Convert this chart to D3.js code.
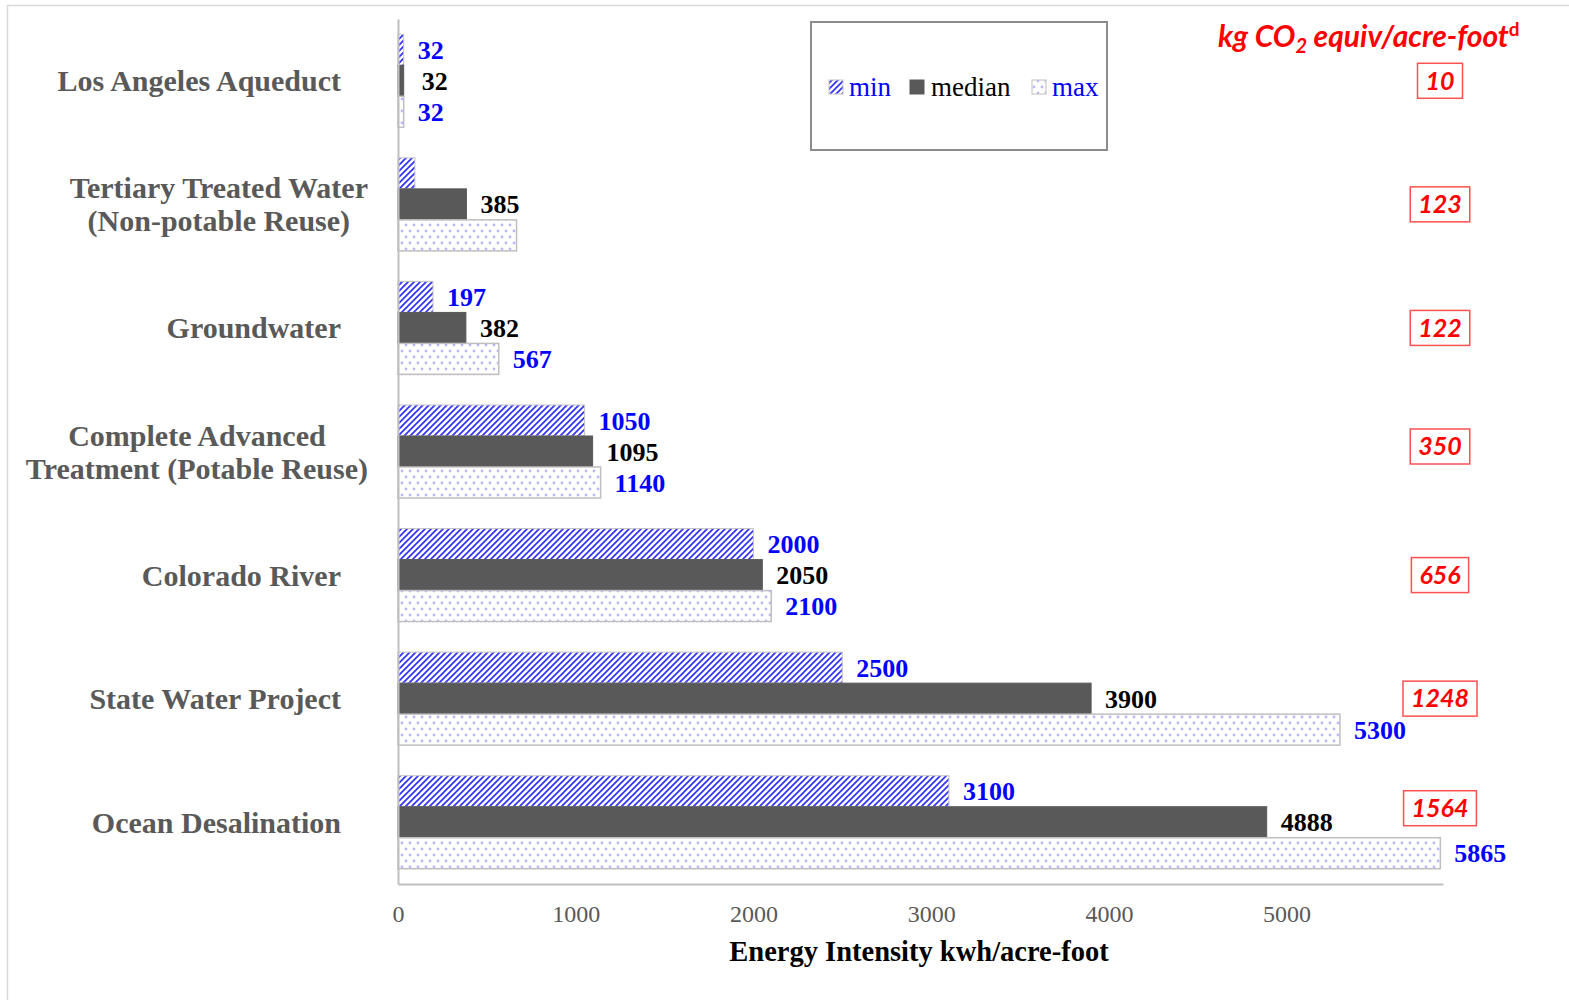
<!DOCTYPE html>
<html><head><meta charset="utf-8">
<script src="https://cdn.jsdelivr.net/npm/d3@7"></script>
<style>
html,body{margin:0;padding:0;background:#fff;}
svg{display:block;}
</style></head>
<body>
<svg id="chart" width="1569" height="1000"></svg>
<script>
// ---- data ----
const categories = ["Los Angeles Aqueduct", "Tertiary Treated Water\n(Non-potable Reuse)", "Groundwater",
  "Complete Advanced\nTreatment (Potable Reuse)", "Colorado River", "State Water Project", "Ocean Desalination"];
const seriesNames = ["min", "median", "max"];
const minValues = [32, 95, 197, 1050, 2000, 2500, 3100];
const medianValues = [32, 385, 382, 1095, 2050, 3900, 4888];
const maxValues = [32, 667, 567, 1140, 2100, 5300, 5865];
const minLabels = ["32", null, "197", "1050", "2000", "2500", "3100"];
const medianLabels = ["32", "385", "382", "1095", "2050", "3900", "4888"];
const maxLabels = ["32", null, "567", "1140", "2100", "5300", "5865"];
const co2Values = ["10", "123", "122", "350", "656", "1248", "1564"];
const xTicks = [0, 1000, 2000, 3000, 4000, 5000];
const xTitle = "Energy Intensity kwh/acre-foot";

// ---- layout ----
const svg = d3.select("#chart");
const serif = "'Liberation Serif', 'Times New Roman', serif";
const sans = "Lato, 'Open Sans', sans-serif";
const plotLeft = 398, plotRight = 1443, plotTop = 19, plotBottom = 884;

svg.append("rect").attr("x", 7.5).attr("y", 5.5).attr("width", 1700).attr("height", 1100)
  .attr("fill", "none").attr("stroke", "#d9d9d9").attr("stroke-width", 1.5);

const defs = svg.append("defs");
const hatch = defs.append("pattern").attr("id", "hatch").attr("patternUnits", "userSpaceOnUse")
  .attr("width", 6).attr("height", 6);
hatch.append("rect").attr("width", 6).attr("height", 6).attr("fill", "#fff");
hatch.append("path").attr("d", "M-1,1 L1,-1 M0,6 L6,0 M5,7 L7,5")
  .attr("stroke", "#3030ff").attr("stroke-width", 1.7);
const dots = defs.append("pattern").attr("id", "dots").attr("patternUnits", "userSpaceOnUse")
  .attr("width", 8).attr("height", 12);
dots.append("rect").attr("width", 8).attr("height", 12).attr("fill", "#fff");
dots.append("circle").attr("cx", 2).attr("cy", 3).attr("r", 1.4).attr("fill", "#b8b8fc");
dots.append("circle").attr("cx", 6).attr("cy", 9).attr("r", 1.4).attr("fill", "#b8b8fc");

const x = d3.scaleLinear().domain([0, 5880]).range([plotLeft, plotRight]);
const y = d3.scaleBand().domain(categories).range([plotTop, plotBottom]).paddingInner(0.2474).paddingOuter(0.1237);
const ySub = d3.scaleBand().domain(seriesNames).range([0, y.bandwidth()]);

const seriesStyle = {
  min: {fill: "url(#hatch)", stroke: "#c4c4c4", sw: 1, label: "#0000ff"},
  median: {fill: "#595959", stroke: "#595959", sw: 1, label: "#000"},
  max: {fill: "url(#dots)", stroke: "#bfbfbf", sw: 1.5, label: "#0000ff"}
};
const valuesBySeries = {min: minValues, median: medianValues, max: maxValues};
const labelsBySeries = {min: minLabels, median: medianLabels, max: maxLabels};

const rows = [];
categories.forEach((c, i) => seriesNames.forEach(s => rows.push({cat: c, s, v: valuesBySeries[s][i], lab: labelsBySeries[s][i]})));

// axes
const xAxis = d3.axisBottom(x).tickValues(xTicks).tickSize(0).tickPadding(21).tickFormat(d3.format("d"));
const gx = svg.append("g").attr("transform", `translate(0,${plotBottom})`).call(xAxis);
gx.select(".domain").attr("stroke", "#bfbfbf").attr("stroke-width", 2);
gx.selectAll("text").attr("font-family", serif).attr("font-size", 24).attr("fill", "#595959");

// bars
svg.append("g").selectAll("rect").data(rows).join("rect")
  .attr("x", x(0)).attr("y", d => y(d.cat) + ySub(d.s))
  .attr("width", d => x(d.v) - x(0)).attr("height", ySub.bandwidth())
  .attr("fill", d => seriesStyle[d.s].fill).attr("stroke", d => seriesStyle[d.s].stroke)
  .attr("stroke-width", d => seriesStyle[d.s].sw);

const gy = svg.append("g").attr("transform", `translate(${plotLeft},0)`)
  .call(d3.axisLeft(y).tickSize(0).tickFormat(""));
gy.select(".domain").attr("stroke", "#bfbfbf").attr("stroke-width", 2);

// value labels
svg.append("g").selectAll("text").data(rows.filter(d => d.lab)).join("text")
  .attr("x", d => x(d.v) + (d.s === "median" && d.v < 100 ? 18 : 14))
  .attr("y", d => y(d.cat) + ySub(d.s) + ySub.bandwidth() / 2)
  .attr("dy", "0.35em")
  .attr("font-family", serif).attr("font-weight", "bold").attr("font-size", 26)
  .attr("fill", d => seriesStyle[d.s].label).text(d => d.lab);

// category labels
const catG = svg.append("g");
categories.forEach(c => {
  const lines = c.split("\n");
  const cy = y(c) + y.bandwidth() / 2;
  const t = catG.append("text").attr("font-family", serif).attr("font-weight", "bold")
    .attr("font-size", 30).attr("fill", "#595959");
  const lh = 33;
  lines.forEach((ln, k) => {
    t.append("tspan").attr("x", 0).attr("y", cy + (k - (lines.length - 1) / 2) * lh).attr("dy", "0.35em").text(ln);
  });
  if (lines.length === 1) {
    t.attr("text-anchor", "end").selectAll("tspan").attr("x", 341);
  } else {
    let maxW = 0;
    t.selectAll("tspan").each(function () { maxW = Math.max(maxW, this.getComputedTextLength()); });
    t.attr("text-anchor", "middle").selectAll("tspan").attr("x", 368 - maxW / 2);
  }
});

// CO2 boxes
const co2Dy = [0, 0, 0, -5, 0, 0, -14];
const co2G = svg.append("g");
categories.forEach((c, i) => {
  const cy = y(c) + y.bandwidth() / 2 + co2Dy[i];
  const t = co2G.append("text").attr("x", 1440).attr("y", cy).attr("dy", "0.35em")
    .attr("text-anchor", "middle").attr("font-family", sans).attr("font-weight", "bold")
    .attr("font-style", "italic").attr("font-size", 25).attr("fill", "#ff0000").text(co2Values[i]);
  const w = t.node().getComputedTextLength();
  co2G.insert("rect", "text").attr("x", 1440 - w / 2 - 8).attr("y", cy - 17.5)
    .attr("width", w + 16).attr("height", 35).attr("fill", "none")
    .attr("stroke", "#ff5050").attr("stroke-width", 1.5);
});

// CO2 title
const title = svg.append("text").attr("x", 1218).attr("y", 47)
  .attr("font-family", sans).attr("font-weight", "bold").attr("font-style", "italic")
  .attr("font-size", 30).attr("fill", "#ff0000");
title.append("tspan").text("kg CO");
title.append("tspan").attr("font-size", 20).attr("dy", 6).text("2");
title.append("tspan").attr("dy", -6).text(" equiv/acre-foot");
title.append("tspan").attr("font-size", 19).attr("font-style", "normal").attr("dy", -11).text("d");

// x title
svg.append("text").attr("x", 919).attr("y", 961).attr("text-anchor", "middle")
  .attr("font-family", serif).attr("font-weight", "bold").attr("font-size", 28.5).attr("fill", "#000")
  .text(xTitle);

// legend
const lg = svg.append("g");
lg.append("rect").attr("x", 811).attr("y", 22).attr("width", 296).attr("height", 128)
  .attr("fill", "#fff").attr("stroke", "#8c8c8c").attr("stroke-width", 2);
const legendItems = [
  {s: "min", x: 829, tx: 849, color: "#0000ff"},
  {s: "median", x: 910, tx: 931, color: "#000"},
  {s: "max", x: 1032, tx: 1052, color: "#0000ff"}
];
legendItems.forEach(it => {
  lg.append("rect").attr("x", it.x).attr("y", 80).attr("width", 14).attr("height", 14)
    .attr("fill", seriesStyle[it.s].fill).attr("stroke", seriesStyle[it.s].stroke).attr("stroke-width", 1);
  lg.append("text").attr("x", it.tx).attr("y", 87).attr("dy", "0.35em")
    .attr("font-family", serif).attr("font-size", 27).attr("fill", it.color).text(it.s);
});
</script>
</body></html>
